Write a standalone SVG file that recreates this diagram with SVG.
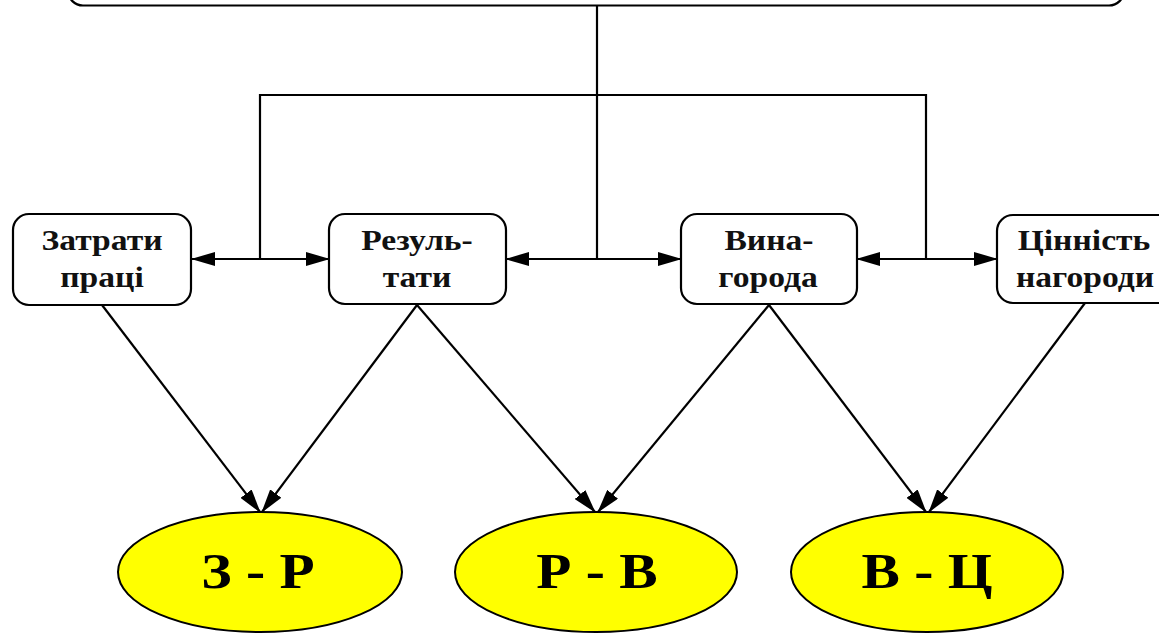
<svg xmlns="http://www.w3.org/2000/svg" width="1159" height="634" viewBox="0 0 1159 634">
<style>
.box{fill:#fff;stroke:#000;stroke-width:2.2}
.ell{fill:#ffff00;stroke:#000;stroke-width:2}
.lbl{font-family:"Liberation Serif",serif;font-weight:bold;font-size:30px;fill:#111;text-anchor:middle}
.big{font-family:"Liberation Serif",serif;font-weight:bold;font-size:50px;fill:#000;text-anchor:middle}
.ln{fill:none;stroke:#000;stroke-width:2.2}
.ar{fill:none;stroke:#000;stroke-width:2.2;marker-end:url(#ah)}
.dar{fill:none;stroke:#000;stroke-width:2.2;marker-start:url(#ah);marker-end:url(#ah)}
</style>
<defs>
<marker id="ah" viewBox="0 0 24 14" refX="23" refY="7" markerWidth="24" markerHeight="14" markerUnits="userSpaceOnUse" orient="auto-start-reverse">
<path d="M0,0 L24,7 L0,14 z" fill="#000"/>
</marker>
</defs>
<rect width="1159" height="634" fill="#fff"/>
<g id="top">
<rect class="box" x="68" y="-40" width="1056" height="45.5" rx="15"/>
</g>
<g id="connectors">
<path class="ln" d="M597,5 V259"/>
<path class="ln" d="M260,259 V95 H926 V259"/>
<line class="dar" x1="192" y1="259" x2="329" y2="259"/>
<line class="dar" x1="506" y1="259" x2="681" y2="259"/>
<line class="dar" x1="857" y1="259" x2="997" y2="259"/>
<line class="ar" x1="102" y1="305" x2="260" y2="512"/>
<line class="ar" x1="417" y1="305" x2="262" y2="512"/>
<line class="ar" x1="417" y1="305" x2="595" y2="512"/>
<line class="ar" x1="769" y1="305" x2="598" y2="512"/>
<line class="ar" x1="769" y1="305" x2="926" y2="512"/>
<line class="ar" x1="1085" y1="303" x2="929" y2="512"/>
</g>
<g id="n-zatraty">
<rect class="box" x="13" y="214" width="178" height="91" rx="16"/>
<text class="lbl" transform="translate(102,250) scale(1.12,1)">Затрати</text>
<text class="lbl" transform="translate(102,287) scale(1.12,1)">праці</text>
</g>
<g id="n-rezultaty">
<rect class="box" x="329" y="214" width="177" height="90" rx="16"/>
<text class="lbl" transform="translate(417,250) scale(1.12,1)">Резуль-</text>
<text class="lbl" transform="translate(417,287) scale(1.12,1)">тати</text>
</g>
<g id="n-vynahoroda">
<rect class="box" x="681" y="214" width="176" height="90" rx="16"/>
<text class="lbl" transform="translate(769,250) scale(1.12,1)">Вина-</text>
<text class="lbl" transform="translate(768,287) scale(1.12,1)">города</text>
</g>
<g id="n-tsinnist">
<rect class="box" x="997" y="215" width="178" height="88" rx="16"/>
<text class="lbl" transform="translate(1084,250) scale(1.12,1)">Цінність</text>
<text class="lbl" transform="translate(1085,287) scale(1.12,1)">нагороди</text>
</g>
<g id="e-zr">
<ellipse class="ell" cx="260" cy="572" rx="142" ry="60"/>
<text class="big" transform="translate(258,588) scale(1.15,1)">З - Р</text>
</g>
<g id="e-rv">
<ellipse class="ell" cx="596" cy="572" rx="141" ry="60"/>
<text class="big" transform="translate(597,588) scale(1.15,1)">Р - В</text>
</g>
<g id="e-vc">
<ellipse class="ell" cx="927" cy="572" rx="136" ry="60"/>
<text class="big" transform="translate(927,588) scale(1.15,1)">В - Ц</text>
</g>
</svg>
